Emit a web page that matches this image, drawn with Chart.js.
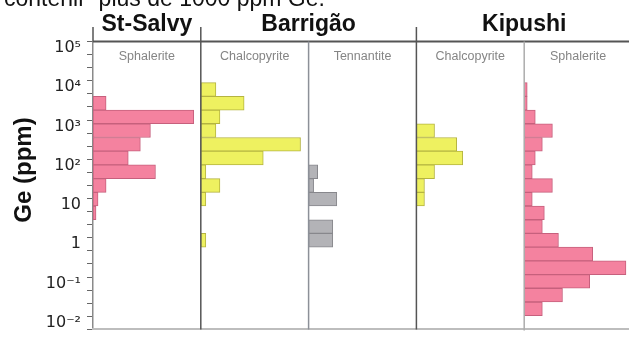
<!DOCTYPE html>
<html>
<head>
<meta charset="utf-8">
<script src="https://cdn.jsdelivr.net/npm/chart.js@4/dist/chart.umd.min.js"></script>
<style>
  html, body { margin: 0; padding: 0; background: #fff; overflow: hidden; }
  #wrap { position: relative; width: 632px; height: 345px; }
</style>
</head>
<body>
<div id="wrap"><canvas id="ge"></canvas></div>
<script>
// Ge histograms, bins of 1/3 decade, listed from top (10^5) to bottom (10^-2)
const bins = [
  "4.67-5.00", "4.33-4.67", "4.00-4.33", "3.67-4.00", "3.33-3.67", "3.00-3.33", "2.67-3.00",
  "2.33-2.67", "2.00-2.33", "1.67-2.00", "1.33-1.67", "1.00-1.33", "0.67-1.00", "0.33-0.67",
  "0.00-0.33", "-0.33-0.00", "-0.67--0.33", "-1.00--0.67", "-1.33--1.00", "-1.67--1.33", "-2.00--1.67"
];

const stSalvySph  = [null, null, null, null, 13, 100, 57, 47, 35, 62, 13, 5, 3, null, null, null, null, null, null, null, null];
const barrigaoCpy = [null, null, null, 15, 43, 19, 15, 99, 62, 5, 19, 5, null, null, 5, null, null, null, null, null, null];
const barrigaoTnt = [null, null, null, null, null, null, null, null, null, 9, 5, 28, null, 24, 24, null, null, null, null, null, null];
const kipushiCpy  = [null, null, null, null, null, null, 18, 40, 46, 18, 8, 8, null, null, null, null, null, null, null, null, null];
const kipushiSph  = [null, null, null, 3, 3, 11, 28, 18, 11, 8, 28, 8, 20, 18, 34, 68, 101, 65, 38, 18, null];

const minerals = ["Sphalerite", "Chalcopyrite", "Tennantite", "Chalcopyrite", "Sphalerite"];
const deposits = ["St-Salvy", "Barrigão", "Kipushi"];

const tickExponents = [-2, -1, 0, 1, 2, 3, 4, 5];
const tickLabels = ["10⁻²", "10⁻¹", "1", "10", "10²", "10³", "10⁴", "10⁵"];

const pink = "#f4829f", pinkLine = "#c6607d";
const yellow = "#eef160", yellowLine = "#b5b441";
const grey = "#b3b3b7", greyLine = "#87878c";

function panelAxis() {
  return {
    type: "linear",
    position: "bottom",
    stack: "panels",
    stackWeight: 1,
    min: 0,
    max: 107,
    ticks: { display: false },
    grid: { display: false, drawTicks: false },
    border: { display: true, color: "#bdbdbd", width: 2 }
  };
}

// lines, titles and labels around the panels
const decor = {
  id: "decor",
  afterDraw(chart) {
    const ctx = chart.ctx;
    const area = chart.chartArea;
    const px = ["x0", "x1", "x2", "x3", "x4"].map(id => chart.scales[id]);
    ctx.save();

    // caption cut off at the top
    ctx.fillStyle = "#111";
    ctx.font = "23px 'Liberation Sans'";
    ctx.textAlign = "left";
    ctx.textBaseline = "alphabetic";
    ctx.fillText("contenir  plus de 1000 ppm Ge.", 4, 6);

    // top line at 10^5
    ctx.strokeStyle = "#555";
    ctx.lineWidth = 2;
    ctx.beginPath();
    ctx.moveTo(area.left, area.top);
    ctx.lineTo(area.right, area.top);
    ctx.stroke();

    // separators between deposits reach above the top line
    ctx.lineWidth = 1.5;
    [area.left, px[1].left, px[3].left].forEach((x, i) => {
      ctx.beginPath();
      ctx.moveTo(x, 27);
      ctx.lineTo(x, i === 0 ? area.top : area.bottom);
      ctx.stroke();
    });
    // separators inside a deposit
    ctx.strokeStyle = "#8c9098";
    ctx.beginPath();
    ctx.moveTo(px[2].left, area.top);
    ctx.lineTo(px[2].left, area.bottom);
    ctx.stroke();
    ctx.strokeStyle = "#acacac";
    ctx.beginPath();
    ctx.moveTo(px[4].left, area.top);
    ctx.lineTo(px[4].left, area.bottom + 1);
    ctx.stroke();

    // deposit names
    ctx.fillStyle = "#111";
    ctx.font = "bold 23px 'Liberation Sans'";
    ctx.textAlign = "center";
    ctx.fillText(deposits[0], (px[0].left + px[0].right) / 2, 31);
    ctx.fillText(deposits[1], (px[1].left + px[2].right) / 2, 31);
    ctx.fillText(deposits[2], (px[3].left + px[4].right) / 2, 31);

    // mineral names inside the panels
    ctx.fillStyle = "#858585";
    ctx.font = "12.5px 'Liberation Sans'";
    minerals.forEach((m, i) => {
      ctx.fillText(m, (px[i].left + px[i].right) / 2, 60);
    });

    // y title
    ctx.translate(24, 170);
    ctx.rotate(-Math.PI / 2);
    ctx.fillStyle = "#111";
    ctx.font = "bold 24px 'Liberation Sans'";
    ctx.textBaseline = "middle";
    ctx.fillText("Ge (ppm)", 0, 0);
    ctx.restore();
  }
};

new Chart(document.getElementById("ge"), {
  type: "bar",
  data: {
    labels: bins,
    datasets: [
      { label: "St-Salvy sphalerite", data: stSalvySph, xAxisID: "x0", backgroundColor: pink, borderColor: pinkLine },
      { label: "Barrigão chalcopyrite", data: barrigaoCpy, xAxisID: "x1", backgroundColor: yellow, borderColor: yellowLine },
      { label: "Barrigão tennantite", data: barrigaoTnt, xAxisID: "x2", backgroundColor: grey, borderColor: greyLine },
      { label: "Kipushi chalcopyrite", data: kipushiCpy, xAxisID: "x3", backgroundColor: yellow, borderColor: yellowLine },
      { label: "Kipushi sphalerite", data: kipushiSph, xAxisID: "x4", backgroundColor: pink, borderColor: pinkLine }
    ]
  },
  options: {
    indexAxis: "y",
    responsive: true,
    maintainAspectRatio: false,
    animation: false,
    layout: { padding: { top: 41.5, left: 0, right: 0, bottom: 6 } },
    datasets: {
      bar: {
        yAxisID: "yb",
        grouped: false,
        barPercentage: 1,
        categoryPercentage: 1,
        borderWidth: 1,
        borderSkipped: false
      }
    },
    plugins: {
      legend: { display: false },
      tooltip: { enabled: false }
    },
    scales: {
      yb: {
        type: "category",
        position: "left",
        display: false,
        offset: true
      },
      y: {
        type: "linear",
        position: "left",
        min: -2,
        max: 5,
        afterFit(scale) { scale.width = 93; },
        afterBuildTicks(scale) {
          const t = [];
          tickExponents.forEach((e, i) => {
            t.push({ value: e });
            if (i < tickExponents.length - 1) {
              t.push({ value: e + 1 / 3 });
              t.push({ value: e + 2 / 3 });
            }
          });
          scale.ticks = t;
        },
        ticks: {
          autoSkip: false,
          padding: 6,
          color: "#222",
          font: { family: "'DejaVu Sans'", size: 16 },
          callback(v) {
            const i = tickExponents.findIndex(e => Math.abs(e - v) < 1e-6);
            return i < 0 ? "" : tickLabels[i];
          }
        },
        grid: { drawOnChartArea: false, drawTicks: true, tickLength: 6, color: "#666" },
        border: { display: true, color: "#8a8a8a", width: 1.5 }
      },
      x0: panelAxis(),
      x1: panelAxis(),
      x2: panelAxis(),
      x3: panelAxis(),
      x4: panelAxis()
    }
  },
  plugins: [decor]
});
</script>
</body>
</html>
